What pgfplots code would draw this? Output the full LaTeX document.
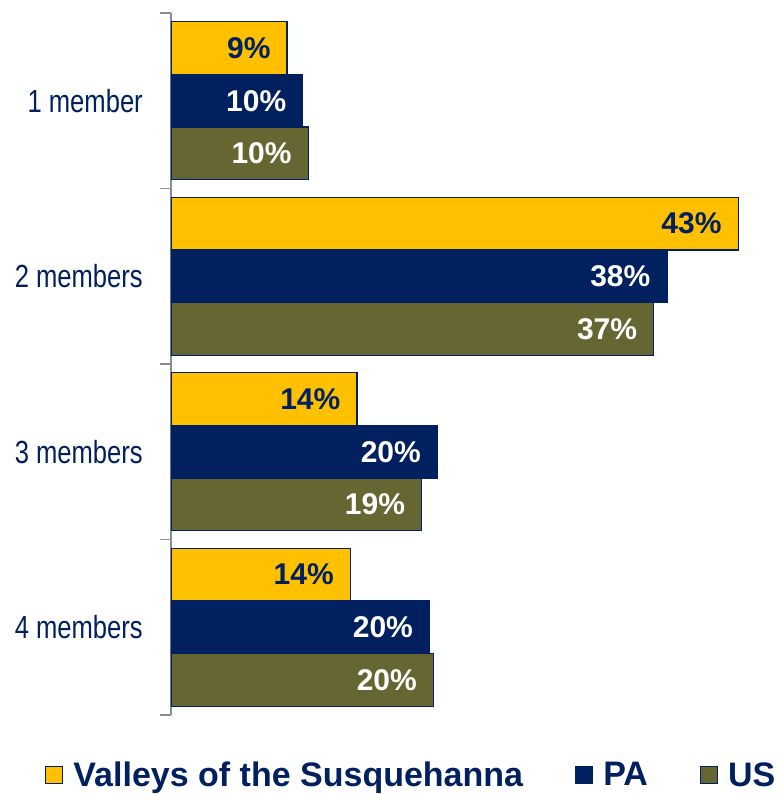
\documentclass[border=0pt]{standalone}
\usepackage{pgfplots}
\pgfplotsset{compat=1.18}
\usepackage{fontspec}
\setmainfont{Liberation Sans}
\newfontfamily\narrowfont[FakeStretch=0.8]{Liberation Sans}
\definecolor{vyellow}{HTML}{FFC000}
\definecolor{vnavy}{HTML}{002060}
\definecolor{volive}{HTML}{666633}
\definecolor{vgray}{HTML}{8C8C8C}
\begin{document}
\begin{tikzpicture}
\useasboundingbox (-171bp,-79bp) rectangle (608bp,715bp);
\begin{axis}[
  at={(0,0)}, anchor=south west,
  scale only axis, width=593.5bp, height=702bp,
  xmin=0, xmax=45, ymin=-0.5, ymax=3.5, y dir=reverse,
  xbar, bar width=0.3, bar shift=0pt,
  axis x line=none, axis y line*=left,
  y axis line style={vgray, line width=1.5bp},
  ytick={0,1,2,3},
  yticklabels={1 member, 2 members, 3 members, 4 members},
  major tick length=0pt,
  minor ytick={-0.5,0.5,1.5,2.5,3.5},
  minor tick length=11bp, tick align=outside,
  minor tick style={vgray, line width=1.5bp},
  yticklabel style={font=\narrowfont\fontsize{32bp}{36bp}\selectfont, text=vnavy, inner sep=0pt, xshift=-28bp},
  point meta=x,
  /pgf/number format/assume math mode=true,
  nodes near coords={\pgfmathprintnumber[fixed,precision=0]{\pgfplotspointmeta}\%},
  every node near coord/.append style={anchor=east, inner sep=0pt, xshift=-16bp, font=\bfseries\fontsize{30bp}{36bp}\selectfont},
  legend columns=3,
  legend cell align=left,
  legend image code/.code={\draw[#1] (0bp,-8.5bp) rectangle (17bp,8.5bp);},
  legend style={at={(-0.2123,-0.0855)}, anchor=west, draw=none, fill=none, inner sep=0pt,
    font=\bfseries\fontsize{34bp}{40bp}\selectfont\color{vnavy},
    nodes={inner sep=0pt},
    /tikz/every odd column/.append style={column sep=10bp},
    /tikz/every even column/.append style={column sep=52bp}},
]
\addplot[fill=vyellow, draw=vnavy, line width=1.2bp, every node near coord/.append style={text=vnavy}]
  coordinates {(8.8,-0.3) (43,0.7) (14.1,1.7) (13.6,2.7)};
\addplot[fill=vnavy, draw=vnavy, line width=1.2bp, every node near coord/.append style={text=white}]
  coordinates {(10.0,0) (37.6,1) (20.2,2) (19.6,3)};
\addplot[fill=volive, draw=vnavy, line width=1.2bp, every node near coord/.append style={text=white}]
  coordinates {(10.4,0.3) (36.6,1.3) (19.0,2.3) (19.9,3.3)};
\legend{Valleys of the Susquehanna, PA, US}
\end{axis}
\end{tikzpicture}
\end{document}
